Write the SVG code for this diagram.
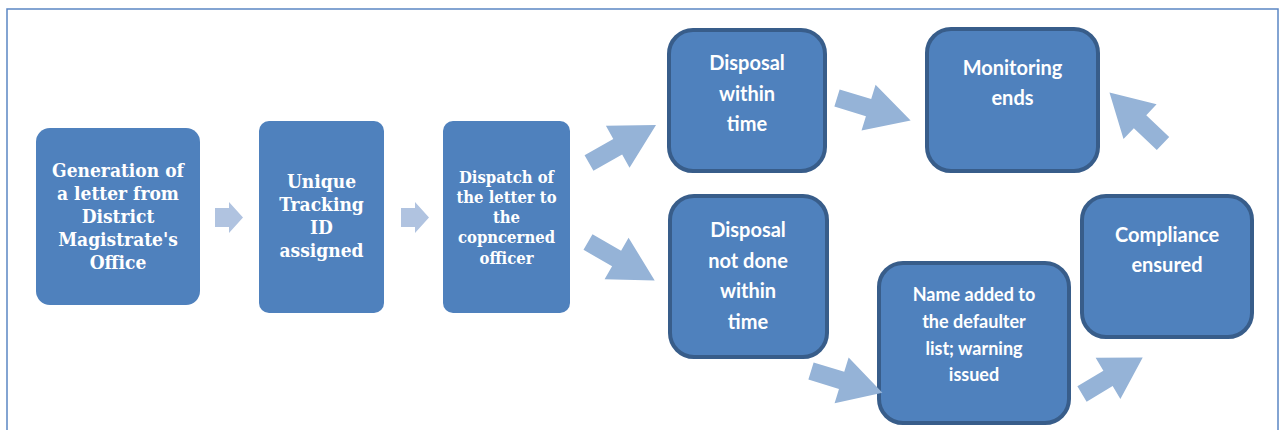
<svg xmlns="http://www.w3.org/2000/svg" width="1280" height="430" viewBox="0 0 1280 430">
<defs>
<style>
.frame{fill:none;stroke:#5b86c4;stroke-width:1.5}
.plain{fill:#4f81bd}
.bord{fill:#4f81bd;stroke:#385d8a;stroke-width:4}
.serif{font-family:'DejaVu Serif Condensed','DejaVu Serif','Liberation Serif',serif;font-stretch:condensed;font-weight:bold;fill:#ffffff;text-anchor:middle}
.sans{font-family:Lato,'Liberation Sans',sans-serif;font-weight:bold;fill:#ffffff;text-anchor:middle}
.big{fill:#95b3d7}
.small{fill:#b0c3e0}
</style>
<path id="ba" d="M0,-9 L33,-9 L33,-24 L77,0 L33,24 L33,9 L0,9 Z"/>
</defs>
<rect class="frame" x="7" y="9" width="1271" height="440"/>
<g id="connectors">
<path class="small" d="M215,208 L229,208 L229,202 L243,217.5 L229,233 L229,227 L215,227 Z"/>
<path class="small" d="M401,208 L415,208 L415,202 L429,217.5 L415,233 L415,227 L401,227 Z"/>
<use href="#ba" class="big" transform="translate(589,163) rotate(-29.5)"/>
<use href="#ba" class="big" transform="translate(588,242) rotate(30)"/>
<use href="#ba" class="big" transform="translate(837,98) rotate(17)"/>
<use href="#ba" class="big" transform="translate(1163,143.5) rotate(223.6) scale(0.96,1)"/>
</g>
<g id="n1">
<rect class="plain" x="36" y="128" width="164" height="177" rx="14"/>
<text class="serif" font-size="19"><tspan x="118" y="177">Generation of</tspan><tspan x="118" y="200">a letter from</tspan><tspan x="118" y="223">District</tspan><tspan x="118" y="246">Magistrate's</tspan><tspan x="118" y="269">Office</tspan></text>
</g>
<g id="n2">
<rect class="plain" x="259" y="121" width="125" height="192" rx="10"/>
<text class="serif" font-size="19"><tspan x="321.5" y="188">Unique</tspan><tspan x="321.5" y="211">Tracking</tspan><tspan x="321.5" y="234">ID</tspan><tspan x="321.5" y="257">assigned</tspan></text>
</g>
<g id="n3">
<rect class="plain" x="443" y="121" width="127" height="192" rx="10"/>
<text class="serif" font-size="16.5"><tspan x="506.5" y="183">Dispatch of</tspan><tspan x="506.5" y="203">the letter to</tspan><tspan x="506.5" y="223">the</tspan><tspan x="506.5" y="243">copncerned</tspan><tspan x="506.5" y="264">officer</tspan></text>
</g>
<g id="n4">
<rect class="bord" x="669" y="30" width="156" height="141" rx="24"/>
<text class="sans" font-size="20"><tspan x="747" y="70">Disposal</tspan><tspan x="747" y="100.5">within</tspan><tspan x="747" y="131">time</tspan></text>
</g>
<g id="n5">
<rect class="bord" x="927" y="29" width="171" height="142" rx="24"/>
<text class="sans" font-size="20"><tspan x="1012.5" y="75">Monitoring</tspan><tspan x="1012.5" y="105">ends</tspan></text>
</g>
<g id="n6">
<rect class="bord" x="670" y="196" width="157" height="161" rx="24"/>
<text class="sans" font-size="20"><tspan x="748" y="237">Disposal</tspan><tspan x="748" y="267.5">not done</tspan><tspan x="748" y="298">within</tspan><tspan x="748" y="328.5">time</tspan></text>
</g>
<g id="n7">
<rect class="bord" x="879" y="263" width="190" height="160" rx="24"/>
<text class="sans" font-size="18"><tspan x="974" y="301">Name added to</tspan><tspan x="974" y="328">the defaulter</tspan><tspan x="974" y="355">list; warning</tspan><tspan x="974" y="381">issued</tspan></text>
</g>
<g id="n8">
<rect class="bord" x="1082" y="196" width="170" height="141" rx="24"/>
<text class="sans" font-size="20"><tspan x="1167" y="242">Compliance</tspan><tspan x="1167" y="272">ensured</tspan></text>
</g>
<g id="connectors-front">
<use href="#ba" class="big" transform="translate(811,371) rotate(17) scale(0.97,1)"/>
<use href="#ba" class="big" transform="translate(1082,394) rotate(-31) scale(0.92,1)"/>
</g>
</svg>
